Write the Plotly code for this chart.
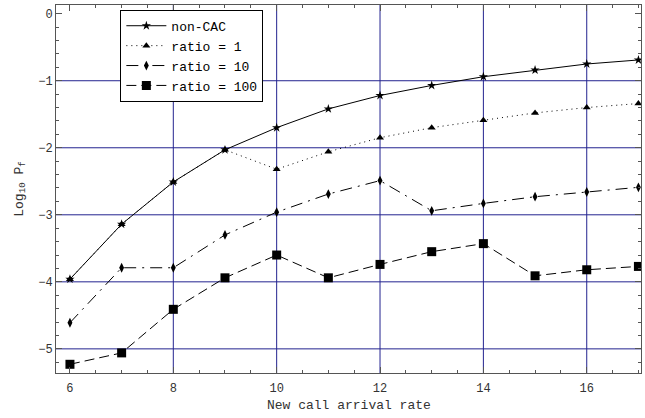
import plotly.graph_objects as go

x_rate = [6, 7, 8, 9, 10, 11, 12, 13, 14, 15, 16, 17]
non_cac = [-3.96, -3.14, -2.51, -2.03, -1.70, -1.42, -1.22, -1.07, -0.94, -0.84, -0.75, -0.69]
ratio_1 = [-3.96, -3.14, -2.51, -2.03, -2.32, -2.06, -1.85, -1.70, -1.59, -1.48, -1.40, -1.34]
ratio_10 = [-4.61, -3.79, -3.79, -3.30, -2.96, -2.69, -2.49, -2.94, -2.83, -2.73, -2.66, -2.59]
ratio_100 = [-5.23, -5.06, -4.41, -3.94, -3.60, -3.94, -3.74, -3.55, -3.43, -3.91, -3.82, -3.77]

x_ticks = [6, 8, 10, 12, 14, 16]
y_ticks = [0, -1, -2, -3, -4, -5]
grid_x = [8, 10, 12, 14, 16]
grid_y = [-1, -2, -3, -4, -5]

FONT = "Liberation Mono, Courier New, monospace"
GRID = "#23238f"

series = [
    ("non-CAC", non_cac, "solid", "star", 7),
    ("ratio = 1", ratio_1, "1px,4px", "triangle-up", 7),
    ("ratio = 10", ratio_10, "12px,6px,2px,6px", "diamond-tall", 7),
    ("ratio = 100", ratio_100, "10px,5px", "square", 9),
]

fig = go.Figure()
for name, ys, dash, sym, size in series:
    fig.add_trace(go.Scatter(
        x=x_rate, y=ys, name=name, mode="lines+markers",
        line=dict(color="black", width=1, dash=dash),
        marker=dict(symbol=sym, size=size, color="black"),
    ))

shapes = []
for gx in grid_x:
    shapes.append(dict(type="line", xref="x", yref="paper", x0=gx, x1=gx, y0=0, y1=1,
                       line=dict(color=GRID, width=1), layer="below"))
for gy in grid_y:
    shapes.append(dict(type="line", xref="paper", yref="y", x0=0, x1=1, y0=gy, y1=gy,
                       line=dict(color=GRID, width=1), layer="below"))

annotations = [
    dict(text="New call arrival rate", xref="paper", yref="paper", x=0.5, y=-0.088,
         xanchor="center", yanchor="middle", showarrow=False,
         font=dict(family=FONT, size=13, color="#333")),
    dict(text="Log<sub>10</sub> P<sub>f</sub>", xref="paper", yref="paper", x=-0.062, y=0.5,
         xanchor="center", yanchor="middle", showarrow=False, textangle=-90,
         font=dict(family=FONT, size=13, color="#333")),
]

fig.update_layout(
    width=645, height=418,
    margin=dict(l=56, r=4, t=5, b=45),
    paper_bgcolor="white", plot_bgcolor="white",
    font=dict(family=FONT, size=12, color="#333"),
    shapes=shapes,
    annotations=annotations,
    showlegend=True,
    legend=dict(x=0.11, y=0.987, xanchor="left", yanchor="top",
                bgcolor="white", bordercolor="black", borderwidth=1,
                font=dict(family=FONT, size=13, color="black"),
                tracegroupgap=0, itemwidth=40),
    xaxis=dict(range=[5.73, 17.05], tickvals=x_ticks, showgrid=False, zeroline=False,
               automargin=False, ticklabelstandoff=4,
               showline=True, linecolor="#555", linewidth=1, mirror="allticks",
               ticks="inside", ticklen=6, tickcolor="#555",
               minor=dict(dtick=0.5, tick0=6, ticks="inside", ticklen=3, tickcolor="#555")),
    yaxis=dict(range=[-5.36, 0.13], tickvals=y_ticks, showgrid=False, zeroline=False,
               automargin=False,
               showline=True, linecolor="#555", linewidth=1, mirror="allticks",
               ticks="inside", ticklen=6, tickcolor="#555",
               minor=dict(dtick=0.2, tick0=0, ticks="inside", ticklen=3, tickcolor="#555")),
)

fig.write_html("out.html", config={"displayModeBar": False},
               post_script="document.body.style.margin='0';document.body.style.padding='0';")
